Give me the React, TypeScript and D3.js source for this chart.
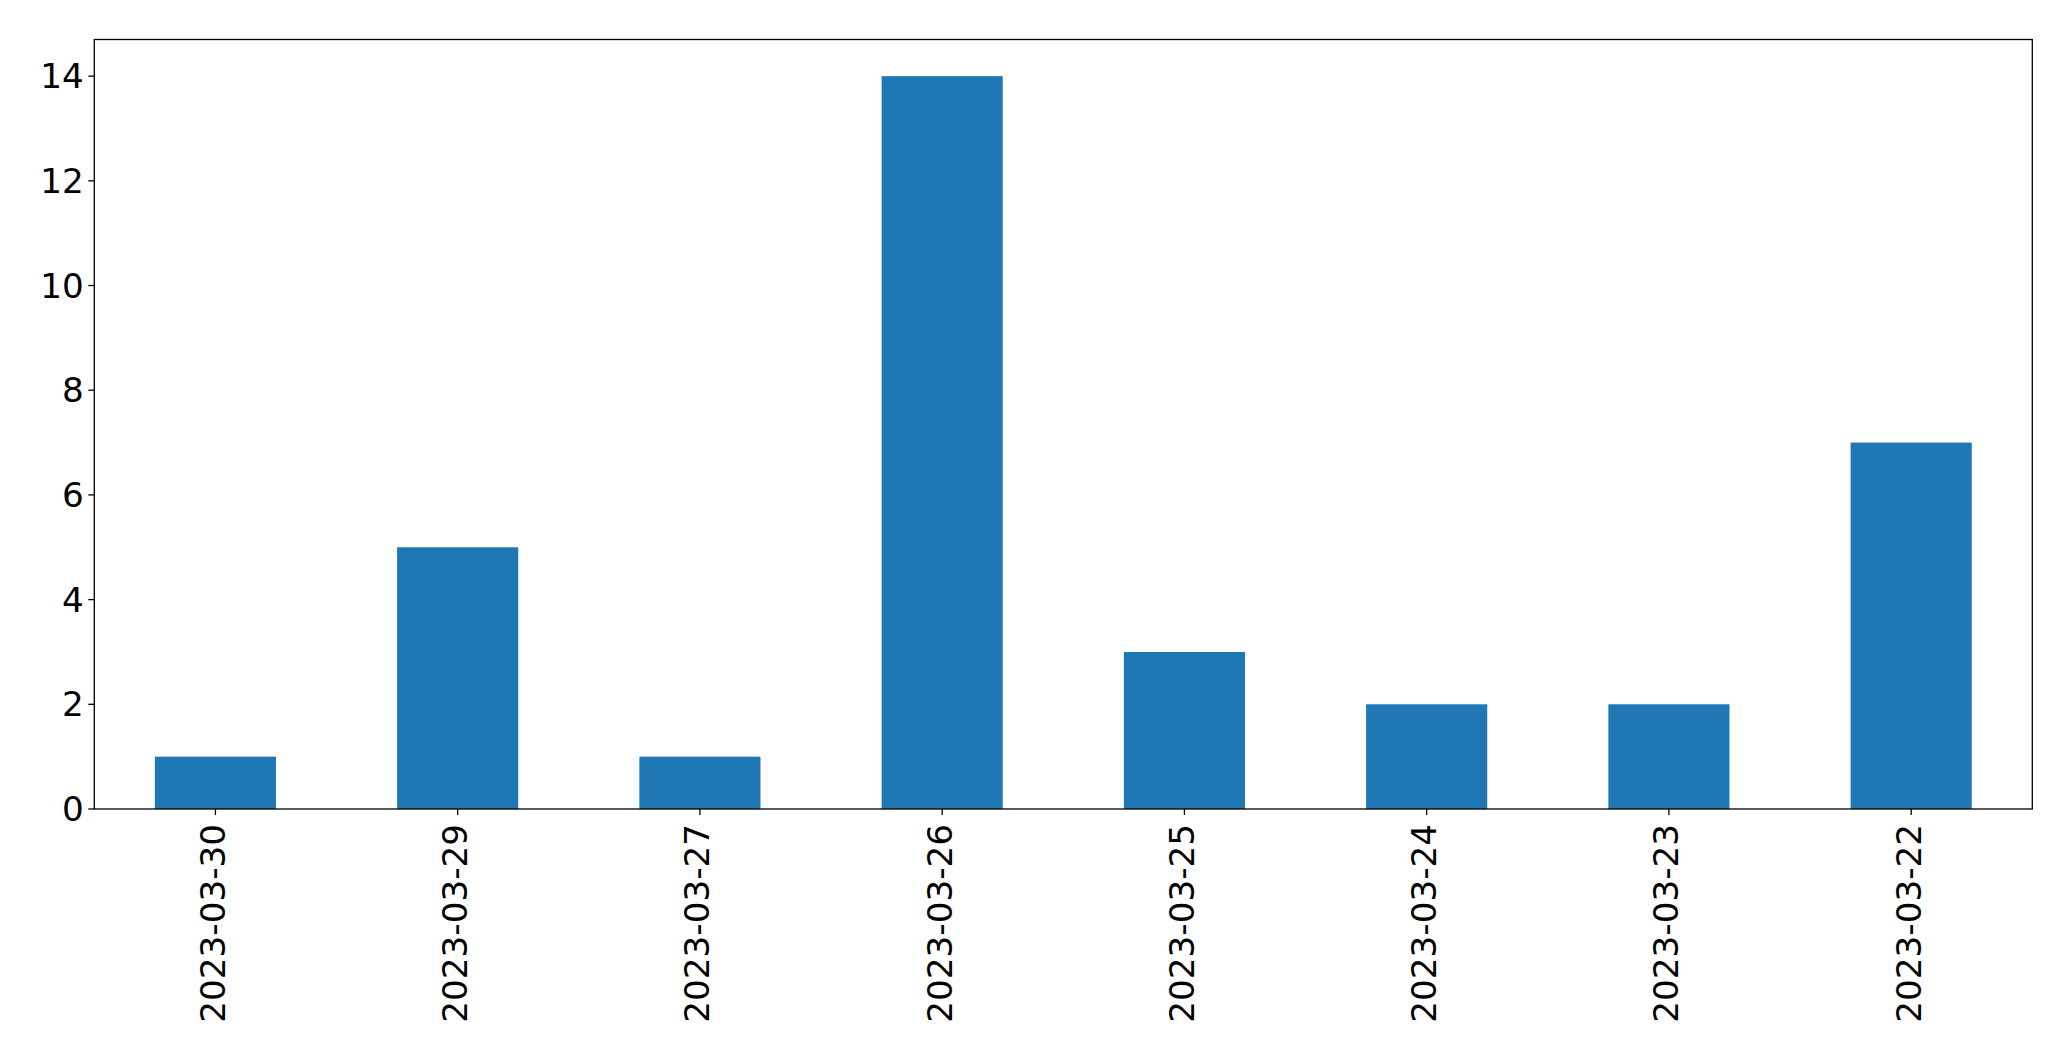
import React from "react";
import * as d3 from "d3";

const categories = ["2023-03-30", "2023-03-29", "2023-03-27", "2023-03-26", "2023-03-25", "2023-03-24", "2023-03-23", "2023-03-22"];
const values = [1, 5, 1, 14, 3, 2, 2, 7];
const yTicks = [0, 2, 4, 6, 8, 10, 12, 14];

const W = 2071, H = 1061;
const left = 94.3, right = 2032.3, top = 39.5, bottom = 809;
const font = "'DejaVu Sans', sans-serif";
const fs = 34.2;

export default function App() {
  const x = d3.scaleLinear().domain([-0.5, categories.length - 0.5]).range([left, right]);
  const y = d3.scaleLinear().domain([0, 14.7]).range([bottom, top]);
  const bw = (x(1) - x(0)) * 0.5;
  return (
    <svg width={W} height={H} style={{ position: "absolute", left: 0, top: 0, background: "#fff" }}>
      <rect x={0} y={0} width={W} height={H} fill="#fff" />
      {values.map((v, i) => (
        <rect key={i} x={x(i) - bw / 2} y={y(v)} width={bw} height={y(0) - y(v)} fill="#1f77b4" />
      ))}
      <rect x={left} y={top} width={right - left} height={bottom - top} fill="none" stroke="#000" strokeWidth={1.3} />
      {yTicks.map((t) => (
        <g key={t}>
          <line x1={left - 6} x2={left} y1={y(t)} y2={y(t)} stroke="#000" strokeWidth={1.3} />
          <text x={left - 10.5} y={y(t)} textAnchor="end" dominantBaseline="central" fontFamily={font} fontSize={fs} fill="#000">{t}</text>
        </g>
      ))}
      {categories.map((c, i) => (
        <g key={c}>
          <line x1={x(i)} x2={x(i)} y1={bottom} y2={bottom + 6} stroke="#000" strokeWidth={1.3} />
          <text transform={`translate(${x(i) - 2.5},${bottom + 15}) rotate(-90)`} textAnchor="end" dominantBaseline="central" fontFamily={font} fontSize={fs} fill="#000">{c}</text>
        </g>
      ))}
    </svg>
  );
}
